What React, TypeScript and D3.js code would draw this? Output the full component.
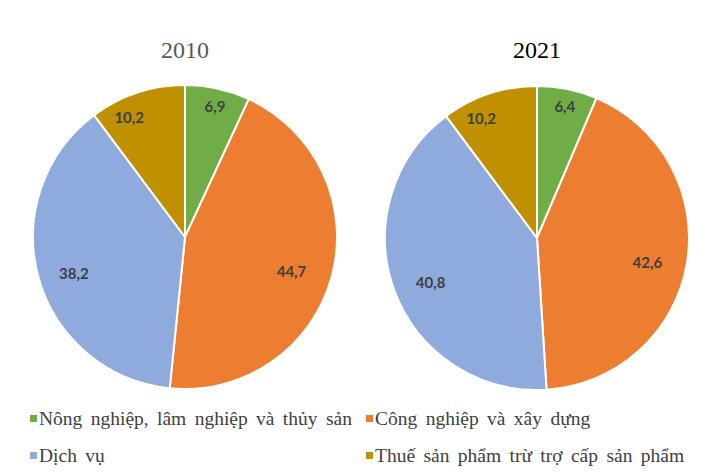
import React from "react";
import * as d3 from "d3";

const categories = [
  "Nông nghiệp, lâm nghiệp và thủy sản",
  "Công nghiệp và xây dựng",
  "Dịch vụ",
  "Thuế sản phẩm trừ trợ cấp sản phẩm",
];
const years = ["2010", "2021"];
const values2010 = [6.9, 44.7, 38.2, 10.2];
const values2021 = [6.4, 42.6, 40.8, 10.2];
const colors = ["#70AD47", "#ED7D31", "#8FAADC", "#BF9000"];

const W = 710;
const H = 476;
const R = 152;

function Pie({ cx, cy, values, title, titleColor }: { cx: number; cy: number; values: number[]; title: string; titleColor: string }) {
  const pie = d3.pie<number>().sort(null).value((d) => d);
  const arcs = pie(values);
  const arc = d3.arc<d3.PieArcDatum<number>>().innerRadius(0).outerRadius(R);
  return (
    <g>
      <text x={cx} y={58} textAnchor="middle" fontFamily="'Liberation Serif', 'Times New Roman', serif" fontSize={24} fill={titleColor}>
        {title}
      </text>
      <g transform={`translate(${cx},${cy})`}>
        {arcs.map((a, i) => (
          <path key={i} d={arc(a) || ""} fill={colors[i]} stroke="#fff" strokeWidth={2} />
        ))}
        {arcs.map((a, i) => {
          const f = 0.95 - 0.005 * a.data;
          const mid = (a.startAngle + a.endAngle) / 2 - (a.data < 12 && mid0(a) > Math.PI ? 0.1 : 0);
          const x = Math.sin(mid) * R * f;
          const y = -Math.cos(mid) * R * f + 5;
          return (
            <text key={"l" + i} x={x} y={y} textAnchor="middle" dominantBaseline="central" fontFamily="Lato, 'Open Sans', sans-serif" fontWeight="bold" fontSize={15} fill="#404040">
              {String(a.data).replace(".", ",")}
            </text>
          );
        })}
      </g>
    </g>
  );
}

function mid0(a: d3.PieArcDatum<number>) {
  return (a.startAngle + a.endAngle) / 2;
}

export default function App() {
  const legendPos = [
    { x: 30, y: 425 },
    { x: 366, y: 425 },
    { x: 30, y: 462 },
    { x: 366, y: 462 },
  ];
  return (
    <svg width={W} height={H} style={{ position: "absolute", left: 0, top: 0, background: "#fff" }}>
      <Pie cx={185} cy={237} values={values2010} title={years[0]} titleColor="#595959" />
      <Pie cx={537} cy={238} values={values2021} title={years[1]} titleColor="#000" />
      {categories.map((c, i) => (
        <g key={c}>
          <rect x={legendPos[i].x} y={legendPos[i].y - 10} width={7} height={7} fill={colors[i]} />
          <text x={legendPos[i].x + 9} y={legendPos[i].y} fontFamily="'Liberation Serif', 'Times New Roman', serif" fontSize={19.5} fill="#404040" style={{ wordSpacing: "3.5px" }}>
            {c}
          </text>
        </g>
      ))}
    </svg>
  );
}
